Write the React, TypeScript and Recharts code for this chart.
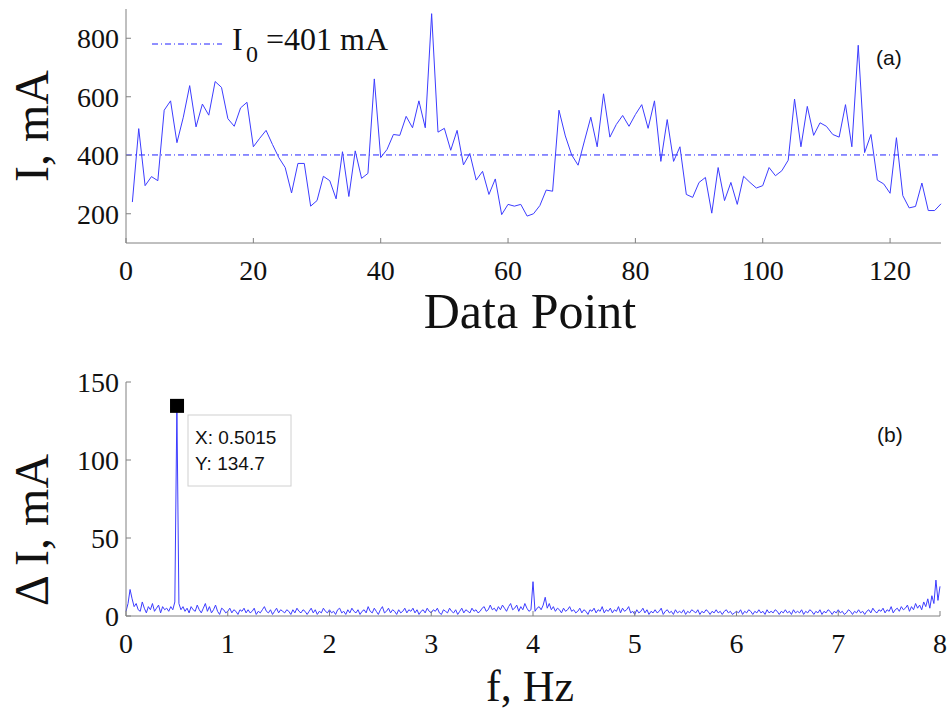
import { LineChart, Line, XAxis, YAxis, ReferenceLine, ReferenceDot } from "recharts"

// (a) measured current, data points 1..128
const currentMa = [
    240, 491, 296, 327, 313, 554, 586, 443, 530, 638, 497, 575, 537, 652, 632, 525,
    499, 562, 581, 429, 458, 485, 437, 392, 358, 271, 372, 372, 226, 245, 328, 313,
    251, 412, 259, 415, 321, 338, 661, 392, 420, 471, 468, 533, 494, 586, 494, 884,
    479, 492, 417, 485, 367, 406, 315, 345, 266, 319, 197, 232, 226, 232, 192, 200,
    228, 281, 277, 554, 466, 401, 366, 449, 530, 429, 610, 462, 505, 536, 499, 539,
    573, 492, 586, 379, 522, 379, 429, 266, 256, 307, 324, 202, 358, 245, 307, 232,
    328, 307, 288, 296, 358, 330, 347, 383, 592, 429, 567, 468, 511, 499, 471, 462,
    573, 429, 776, 409, 471, 315, 302, 270, 460, 262, 220, 225, 305, 211, 211, 234,
]
const meanCurrent = 401

// (b) amplitude spectrum, 0..8 Hz
const spectrumStep = 0.02
const spectrumMa = [
    3, 8, 17, 11, 6, 8, 4, 3, 9, 5, 2, 6, 4, 8, 3, 5, 7, 2, 6, 4,
    5, 3, 6, 4, 9, 134.7, 8, 4, 6, 3, 5, 2, 6, 4, 3, 7, 4, 2, 5, 8,
    3, 6, 2, 4, 7, 3, 1, 5, 4, 2, 3, 5, 2, 4, 3, 1, 4, 3, 5, 2,
    4, 2, 3, 5, 1, 3, 2, 4, 6, 3, 2, 4, 1, 3, 5, 2, 4, 3, 2, 4,
    3, 1, 4, 2, 5, 3, 2, 4, 3, 1, 3, 5, 2, 4, 1, 3, 2, 5, 3, 2,
    4, 2, 3, 1, 4, 5, 2, 3, 1, 4, 2, 5, 3, 2, 4, 1, 3, 4, 2, 6,
    3, 2, 5, 3, 1, 4, 6, 2, 3, 5, 2, 4, 3, 1, 4, 2, 3, 5, 2, 4,
    3, 5, 2, 4, 1, 3, 4, 2, 5, 3, 2, 4, 3, 5, 2, 1, 4, 3, 2, 5,
    3, 2, 4, 1, 3, 5, 2, 4, 3, 2, 5, 3, 4, 2, 3, 5, 6, 3, 4, 7,
    4, 5, 3, 6, 4, 7, 5, 3, 6, 8, 4, 5, 7, 3, 6, 4, 8, 5, 3, 4,
    22, 3, 5, 6, 4, 7, 12, 5, 8, 4, 6, 3, 5, 4, 2, 5, 3, 4, 6, 3,
    4, 2, 3, 5, 2, 4, 3, 1, 4, 3, 5, 2, 4, 3, 6, 2, 4, 3, 5, 2,
    4, 3, 6, 2, 5, 3, 4, 6, 2, 3, 1, 4, 2, 3, 5, 2, 4, 1, 3, 2,
    4, 2, 3, 5, 1, 3, 4, 2, 3, 1, 4, 2, 3, 2, 4, 1, 3, 2, 4, 3,
    2, 4, 1, 3, 2, 4, 3, 1, 3, 2, 4, 2, 3, 1, 3, 4, 2, 3, 1, 2,
    3, 2, 4, 1, 3, 2, 4, 3, 1, 3, 2, 4, 2, 3, 1, 4, 2, 3, 2, 4,
    3, 1, 3, 2, 4, 2, 3, 1, 4, 2, 3, 2, 4, 1, 3, 2, 4, 3, 1, 3,
    2, 4, 1, 3, 2, 4, 3, 1, 3, 2, 4, 2, 3, 1, 2, 4, 3, 1, 3, 2,
    4, 2, 3, 1, 3, 4, 2, 5, 3, 2, 4, 3, 5, 2, 4, 3, 6, 2, 4, 5,
    3, 6, 4, 5, 7, 3, 6, 4, 8, 5, 7, 4, 9, 6, 11, 5, 13, 8, 23, 10,
    19,
]
const peakF = 0.5015
const peakAmp = 134.7

const topTicksX = [0, 20, 40, 60, 80, 100, 120]
const topTicksY = [200, 400, 600, 800]
const bottomTicksX = [0, 1, 2, 3, 4, 5, 6, 7, 8]
const bottomTicksY = [0, 50, 100, 150]

const serif = '"Liberation Serif", "Times New Roman", serif'
const sans = '"Liberation Sans", Arial, sans-serif'
const axisColor = "#808080"
const lineBlue = "#3c3cff"
const tickText = { fill: "#111", fontSize: 28, fontFamily: serif }

const currentData = currentMa.map((v, i) => ({ n: i + 1, cur: v }))
const spectrumData = spectrumMa.map((v, i) => ({ f: +(i * spectrumStep).toFixed(2), amp: v }))

function Square(props: any) {
    return <rect x={props.cx - 7} y={props.cy - 7} width={14} height={14} fill="#000" />
}

export default function App() {
    return (
        <div style={{ position: "absolute", left: 0, top: 0, width: 949, height: 713, background: "#fff" }}>
            <div style={{ position: "absolute", left: 0, top: 0 }}>
                <LineChart width={949} height={340} data={currentData} margin={{ top: 9, right: 8, bottom: 0, left: 0 }}>
                    <XAxis dataKey="n" type="number" domain={[0, 128]} ticks={topTicksX} height={97}
                        tickSize={-5} tickMargin={22} stroke={axisColor} tick={tickText} interval={0} />
                    <XAxis xAxisId="box" orientation="top" type="number" domain={[0, 128]} ticks={topTicksX}
                        height={0} tickSize={-5} tick={false} stroke={axisColor} />
                    <YAxis type="number" domain={[100, 900]} ticks={topTicksY} width={126}
                        tickSize={-5} tickMargin={12} stroke={axisColor} tick={tickText} interval={0} />
                    <YAxis yAxisId="box" orientation="right" type="number" domain={[100, 900]} ticks={topTicksY}
                        width={0} tickSize={-5} tick={false} stroke={axisColor} />
                    <ReferenceLine y={meanCurrent} stroke="#2020ff" strokeWidth={1} strokeDasharray="6 3 1 3" />
                    <Line type="linear" dataKey="cur" stroke={lineBlue} strokeWidth={1} dot={false} isAnimationActive={false} />
                </LineChart>
            </div>
            <div style={{ position: "absolute", left: 0, top: 340 }}>
                <LineChart width={949} height={373} data={spectrumData} margin={{ top: 42, right: 9, bottom: 0, left: 0 }}>
                    <XAxis dataKey="f" type="number" domain={[0, 8]} ticks={bottomTicksX} height={97}
                        tickSize={-5} tickMargin={22} stroke={axisColor} tick={tickText} interval={0} />
                    <XAxis xAxisId="box" orientation="top" type="number" domain={[0, 8]} ticks={bottomTicksX}
                        height={0} tickSize={-5} tick={false} stroke={axisColor} />
                    <YAxis type="number" domain={[0, 150]} ticks={bottomTicksY} width={126}
                        tickSize={-5} tickMargin={12} stroke={axisColor} tick={tickText} interval={0} />
                    <YAxis yAxisId="box" orientation="right" type="number" domain={[0, 150]} ticks={bottomTicksY}
                        width={0} tickSize={-5} tick={false} stroke={axisColor} />
                    <Line type="linear" dataKey="amp" stroke={lineBlue} strokeWidth={1} dot={false} isAnimationActive={false} />
                    <ReferenceDot x={peakF} y={peakAmp} shape={Square} />
                </LineChart>
            </div>
            <svg width={949} height={713} style={{ position: "absolute", left: 0, top: 0, pointerEvents: "none" }}>
                {/* legend (a) */}
                <line x1={152} y1={44} x2={222} y2={44} stroke="#2020ff" strokeWidth={1} strokeDasharray="6 3 1 3" />
                <text x={232} y={50} fontFamily={serif} fontSize={32} fill="#111">I</text>
                <text x={246} y={62} fontFamily={serif} fontSize={24} fill="#111">0</text>
                <text x={266} y={50} fontFamily={serif} fontSize={32} fill="#111">=401 mA</text>
                <text x={876} y={65} fontFamily={sans} fontSize={21} fill="#111">(a)</text>
                <text x={877} y={442} fontFamily={sans} fontSize={21} fill="#111">(b)</text>

                {/* data tip */}
                <rect x={188} y={415} width={103} height={71} fill="#fff" stroke="#d0d0d0" />
                <text x={195} y={444} fontFamily={sans} fontSize={19} fill="#111">X: 0.5015</text>
                <text x={195} y={470} fontFamily={sans} fontSize={19} fill="#111">Y: 134.7</text>

                {/* axis titles */}
                <text x={48} y={126} transform="rotate(-90 48 126)" textAnchor="middle" fontFamily={serif} fontSize={48} fill="#111">I, mA</text>
                <text x={530} y={328} textAnchor="middle" fontFamily={serif} fontSize={50} fill="#111">Data Point</text>
                <text x={48} y={530} transform="rotate(-90 48 530)" textAnchor="middle" fontFamily={serif} fontSize={48} fill="#111">Δ I, mA</text>
                <text x={530} y={701} textAnchor="middle" fontFamily={serif} fontSize={44} fill="#111">f, Hz</text>
            </svg>
        </div>
    )
}
